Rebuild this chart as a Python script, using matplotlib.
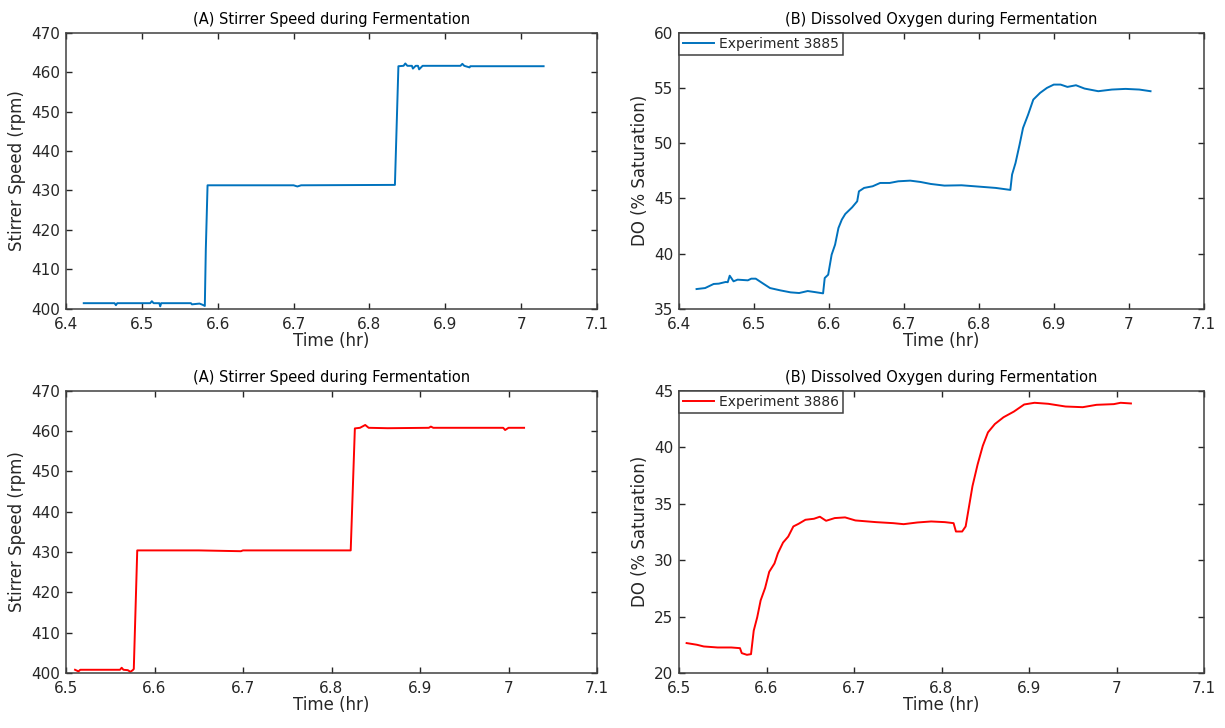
import numpy as np
import matplotlib.pyplot as plt

plt.rcParams['font.family'] = 'DejaVu Sans'

# Experiment 3885 - stirrer speed
t_stir_85 = [6.4234, 6.4640, 6.4658, 6.4676, 6.5110, 6.5132, 6.5155, 6.5230, 6.5242, 6.5255,
             6.5647, 6.5660, 6.5760, 6.5800, 6.5830, 6.5843, 6.5866, 6.6000, 6.7000, 6.7050,
             6.7100, 6.8336, 6.8382, 6.8450, 6.8473, 6.8500, 6.8560, 6.8573, 6.8610, 6.8640,
             6.8655, 6.8701, 6.9200, 6.9225, 6.9250, 6.9320, 6.9330, 6.9360, 7.0296]
rpm_85 = [401.4, 401.4, 400.9, 401.4, 401.4, 401.9, 401.4, 401.4, 400.6, 401.4,
          401.4, 401.1, 401.3, 401.0, 400.7, 415.0, 431.3, 431.3, 431.3, 431.0,
          431.3, 431.4, 461.5, 461.6, 462.2, 461.6, 461.6, 460.9, 461.6, 461.6,
          460.7, 461.6, 461.6, 462.1, 461.6, 461.2, 461.5, 461.5, 461.5]

# Experiment 3885 - dissolved oxygen
t_do_85 = [6.4234, 6.4348, 6.4462, 6.4531, 6.4622, 6.4650, 6.4676, 6.4727, 6.4781, 6.4918,
           6.4964, 6.5023, 6.5123, 6.5214, 6.5351, 6.5488, 6.5602, 6.5716, 6.5807, 6.5921,
           6.5943, 6.5989, 6.6035, 6.6081, 6.6126, 6.6171, 6.6217, 6.6308, 6.6376, 6.6399,
           6.6468, 6.6582, 6.6682, 6.6809, 6.6923, 6.7083, 6.7220, 6.7356, 6.7539, 6.7767,
           6.7995, 6.8223, 6.8418, 6.8441, 6.8487, 6.8541, 6.8587, 6.8655, 6.8724, 6.8815,
           6.8906, 6.8997, 6.9088, 6.9179, 6.9293, 6.9407, 6.9590, 6.9772, 6.9954, 7.0137,
           7.0287]
do_85 = [36.78, 36.87, 37.24, 37.27, 37.42, 37.40, 37.99, 37.48, 37.63, 37.57,
         37.72, 37.72, 37.27, 36.87, 36.66, 36.48, 36.42, 36.60, 36.51, 36.39,
         37.78, 38.08, 39.89, 40.80, 42.31, 43.07, 43.58, 44.18, 44.73, 45.63,
         45.94, 46.09, 46.39, 46.39, 46.54, 46.60, 46.48, 46.30, 46.15, 46.18,
         46.06, 45.94, 45.76, 47.15, 48.20, 49.86, 51.37, 52.58, 53.94, 54.55,
         55.00, 55.30, 55.30, 55.09, 55.24, 54.94, 54.70, 54.85, 54.91, 54.85,
         54.70]

# Experiment 3886 - stirrer speed
t_stir_86 = [6.5102, 6.5141, 6.5161, 6.5610, 6.5629, 6.5649, 6.5699, 6.5727, 6.5754, 6.5766,
             6.5805, 6.6500, 6.6976, 6.7000, 6.8217, 6.8264, 6.8322, 6.8381, 6.8420, 6.8635,
             6.9100, 6.9123, 6.9150, 6.9940, 6.9962, 7.0000, 7.0176]
rpm_86 = [400.8, 400.4, 400.8, 400.8, 401.3, 400.8, 400.7, 400.3, 400.7, 401.0,
          430.4, 430.4, 430.2, 430.4, 430.4, 460.65, 460.8, 461.5, 460.8, 460.7,
          460.8, 461.1, 460.8, 460.8, 460.25, 460.8, 460.8]

# Experiment 3886 - dissolved oxygen
t_do_86 = [6.5087, 6.5205, 6.5283, 6.5441, 6.5598, 6.5697, 6.5717, 6.5776, 6.5823, 6.5854,
           6.5894, 6.5933, 6.5984, 6.6031, 6.6091, 6.6130, 6.6189, 6.6248, 6.6307, 6.6366,
           6.6445, 6.6543, 6.6610, 6.6681, 6.6780, 6.6898, 6.7016, 6.7252, 6.7449, 6.7567,
           6.7724, 6.7882, 6.8039, 6.8138, 6.8165, 6.8236, 6.8276, 6.8315, 6.8354, 6.8413,
           6.8472, 6.8531, 6.8610, 6.8709, 6.8827, 6.8945, 6.9063, 6.9220, 6.9417, 6.9614,
           6.9772, 6.9969, 7.0047, 7.0165]
do_86 = [22.65, 22.50, 22.35, 22.26, 22.26, 22.20, 21.76, 21.61, 21.67, 23.75,
         24.94, 26.43, 27.53, 28.96, 29.70, 30.60, 31.55, 32.08, 32.98, 33.21,
         33.57, 33.66, 33.84, 33.48, 33.72, 33.78, 33.51, 33.36, 33.27, 33.18,
         33.33, 33.42, 33.36, 33.27, 32.53, 32.53, 32.98, 34.76, 36.55, 38.48,
         40.12, 41.31, 42.05, 42.65, 43.15, 43.78, 43.93, 43.84, 43.60, 43.54,
         43.75, 43.81, 43.93, 43.87]

matlab_blue = '#0072BD'
axis_grey = '#404040'
text_grey = '#262626'

fig = plt.figure(figsize=(12.25, 7.28), dpi=100)
W, H = 1225, 728
ax1 = fig.add_axes([66 / W, 1 - 308.7 / H, 531 / W, 276 / H])
ax2 = fig.add_axes([679 / W, 1 - 308.7 / H, 525 / W, 276 / H])
ax3 = fig.add_axes([66 / W, 1 - 673 / H, 531 / W, 282.3 / H])
ax4 = fig.add_axes([679 / W, 1 - 673 / H, 525 / W, 282.3 / H])


def style(ax, xlim, ylim, ylabel, title):
    ax.set_xlim(*xlim)
    ax.set_ylim(*ylim)
    ticks = np.round(np.arange(xlim[0], xlim[1] + 0.001, 0.1), 1)
    ax.set_xticks(ticks)
    ax.set_xticklabels([f'{v:g}' for v in ticks])
    ax.set_xlabel('Time (hr)', fontsize=12, color=text_grey, labelpad=0)
    ax.set_ylabel(ylabel, fontsize=12, color=text_grey, labelpad=4)
    ax.set_title(title, fontsize=10.5, color='black', pad=6)
    ax.tick_params(direction='in', length=4, width=1, top=True, right=True,
                   labelsize=11, colors=text_grey)
    ax.tick_params(axis='x', pad=6)
    ax.tick_params(axis='y', pad=4)
    for s in ax.spines.values():
        s.set_color(axis_grey)
        s.set_linewidth(1.1)


# (A) stirrer speed, exp 3885
ax1.plot(t_stir_85, rpm_85, color=matlab_blue, lw=1.4)
style(ax1, (6.4, 7.1), (400, 470), 'Stirrer Speed (rpm)', '(A) Stirrer Speed during Fermentation')

# (B) dissolved oxygen, exp 3885
ax2.plot(t_do_85, do_85, color=matlab_blue, lw=1.4, label='Experiment 3885')
style(ax2, (6.4, 7.1), (35, 60), 'DO (% Saturation)', '(B) Dissolved Oxygen during Fermentation')

# (A) stirrer speed, exp 3886
ax3.plot(t_stir_86, rpm_86, color='red', lw=1.4)
style(ax3, (6.5, 7.1), (400, 470), 'Stirrer Speed (rpm)', '(A) Stirrer Speed during Fermentation')

# (B) dissolved oxygen, exp 3886
ax4.plot(t_do_86, do_86, color='red', lw=1.4, label='Experiment 3886')
style(ax4, (6.5, 7.1), (20, 45), 'DO (% Saturation)', '(B) Dissolved Oxygen during Fermentation')

for ax in (ax2, ax4):
    leg = ax.legend(loc='upper left', fontsize=10, frameon=True, fancybox=False,
                    borderaxespad=0, handlelength=2.2, borderpad=0.3, handletextpad=0.4)
    leg.get_frame().set_edgecolor(axis_grey)
    leg.get_frame().set_linewidth(1.1)
    leg.get_frame().set_alpha(1)
    for txt in leg.get_texts():
        txt.set_color(text_grey)

fig.savefig('out.png', dpi=100)
